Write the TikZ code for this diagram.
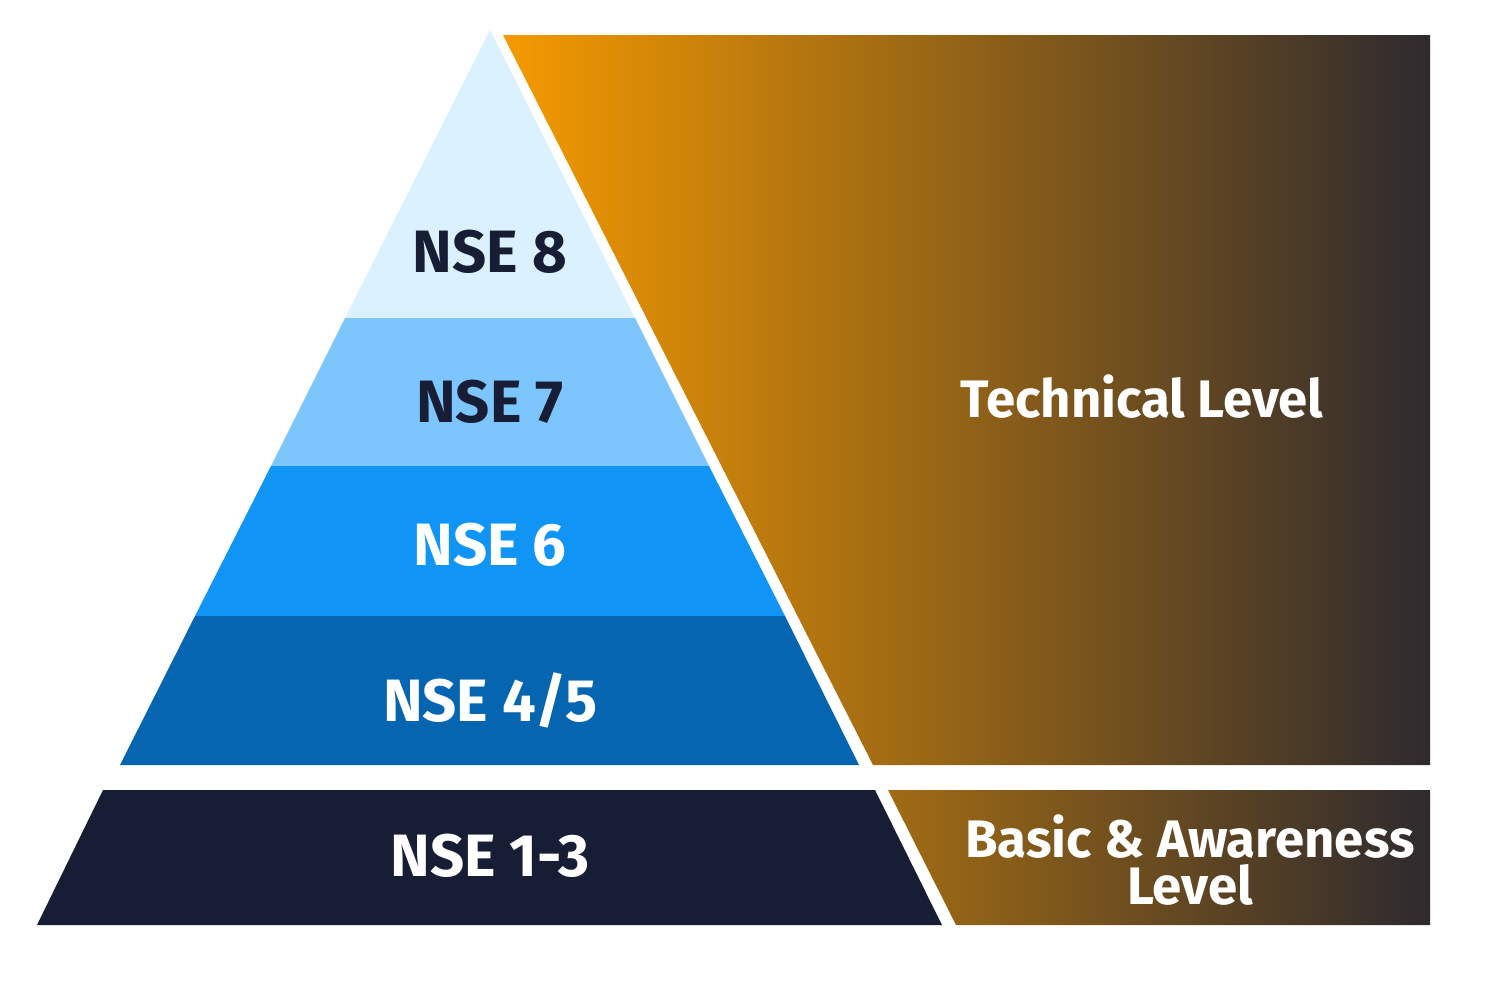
\documentclass[tikz,border=0pt]{standalone}
\usepackage{fontspec}
\setmainfont{Fira Sans}
\usepackage{tikz}

\definecolor{nseeight}{HTML}{DBF1FD}
\definecolor{nseseven}{HTML}{7DC6FD}
\definecolor{nsesix}{HTML}{1094F6}
\definecolor{nsefour}{HTML}{0565B0}
\definecolor{nsebase}{HTML}{161D35}
\definecolor{gradL}{HTML}{F59A00}
\definecolor{gradR}{HTML}{2E2A2E}
\colorlet{gradM}{gradR!42!gradL}

\tikzset{
  lvltext/.style={font=\fontsize{17}{18}\selectfont\bfseries},
  sidetext/.style={font=\fontsize{15}{13.5}\selectfont\bfseries, text=white, align=center}
}

\begin{document}
\begin{tikzpicture}[x=0.01cm,y=-0.01cm]

  \useasboundingbox (0,0) rectangle (1500,1000);

  %% Draw the side bands
  \shade[left color=gradL, right color=gradR] (503,35) -- (1430,35) -- (1430,765) -- (873,765) -- cycle;
  \shade[left color=gradM, right color=gradR] (888,790) -- (1430,790) -- (1430,925) -- (956,925) -- cycle;

  %% Draw the pyramid levels
  \fill[nseeight] (490,30) -- (635,318) -- (345,318) -- cycle;
  \fill[nseseven] (345,318) -- (635,318) -- (709,466) -- (271,466) -- cycle;
  \fill[nsesix] (271,466) -- (709,466) -- (785,616) -- (195,616) -- cycle;
  \fill[nsefour] (195,616) -- (785,616) -- (859,765) -- (120,765) -- cycle;
  \fill[nsebase] (103,790) -- (875,790) -- (942,925) -- (37,925) -- cycle;

  %% Add text to the picture
  \node[lvltext, text=nsebase] (n8) at (490,252) {NSE 8};
  \node[lvltext, text=nsebase] (n7) at (490,402) {NSE 7};
  \node[lvltext, text=white] (n6) at (490,545) {NSE 6};
  \node[lvltext, text=white] (n45) at (490,700) {NSE 4/5};
  \node[lvltext, text=white] (n13) at (490,856) {NSE 1-3};
  \node[sidetext] (tech) at (1142,397) {Technical Level};
  \node[sidetext] (basic) at (1190,860) {Basic \& Awareness\\Level};

\end{tikzpicture}
\end{document}
